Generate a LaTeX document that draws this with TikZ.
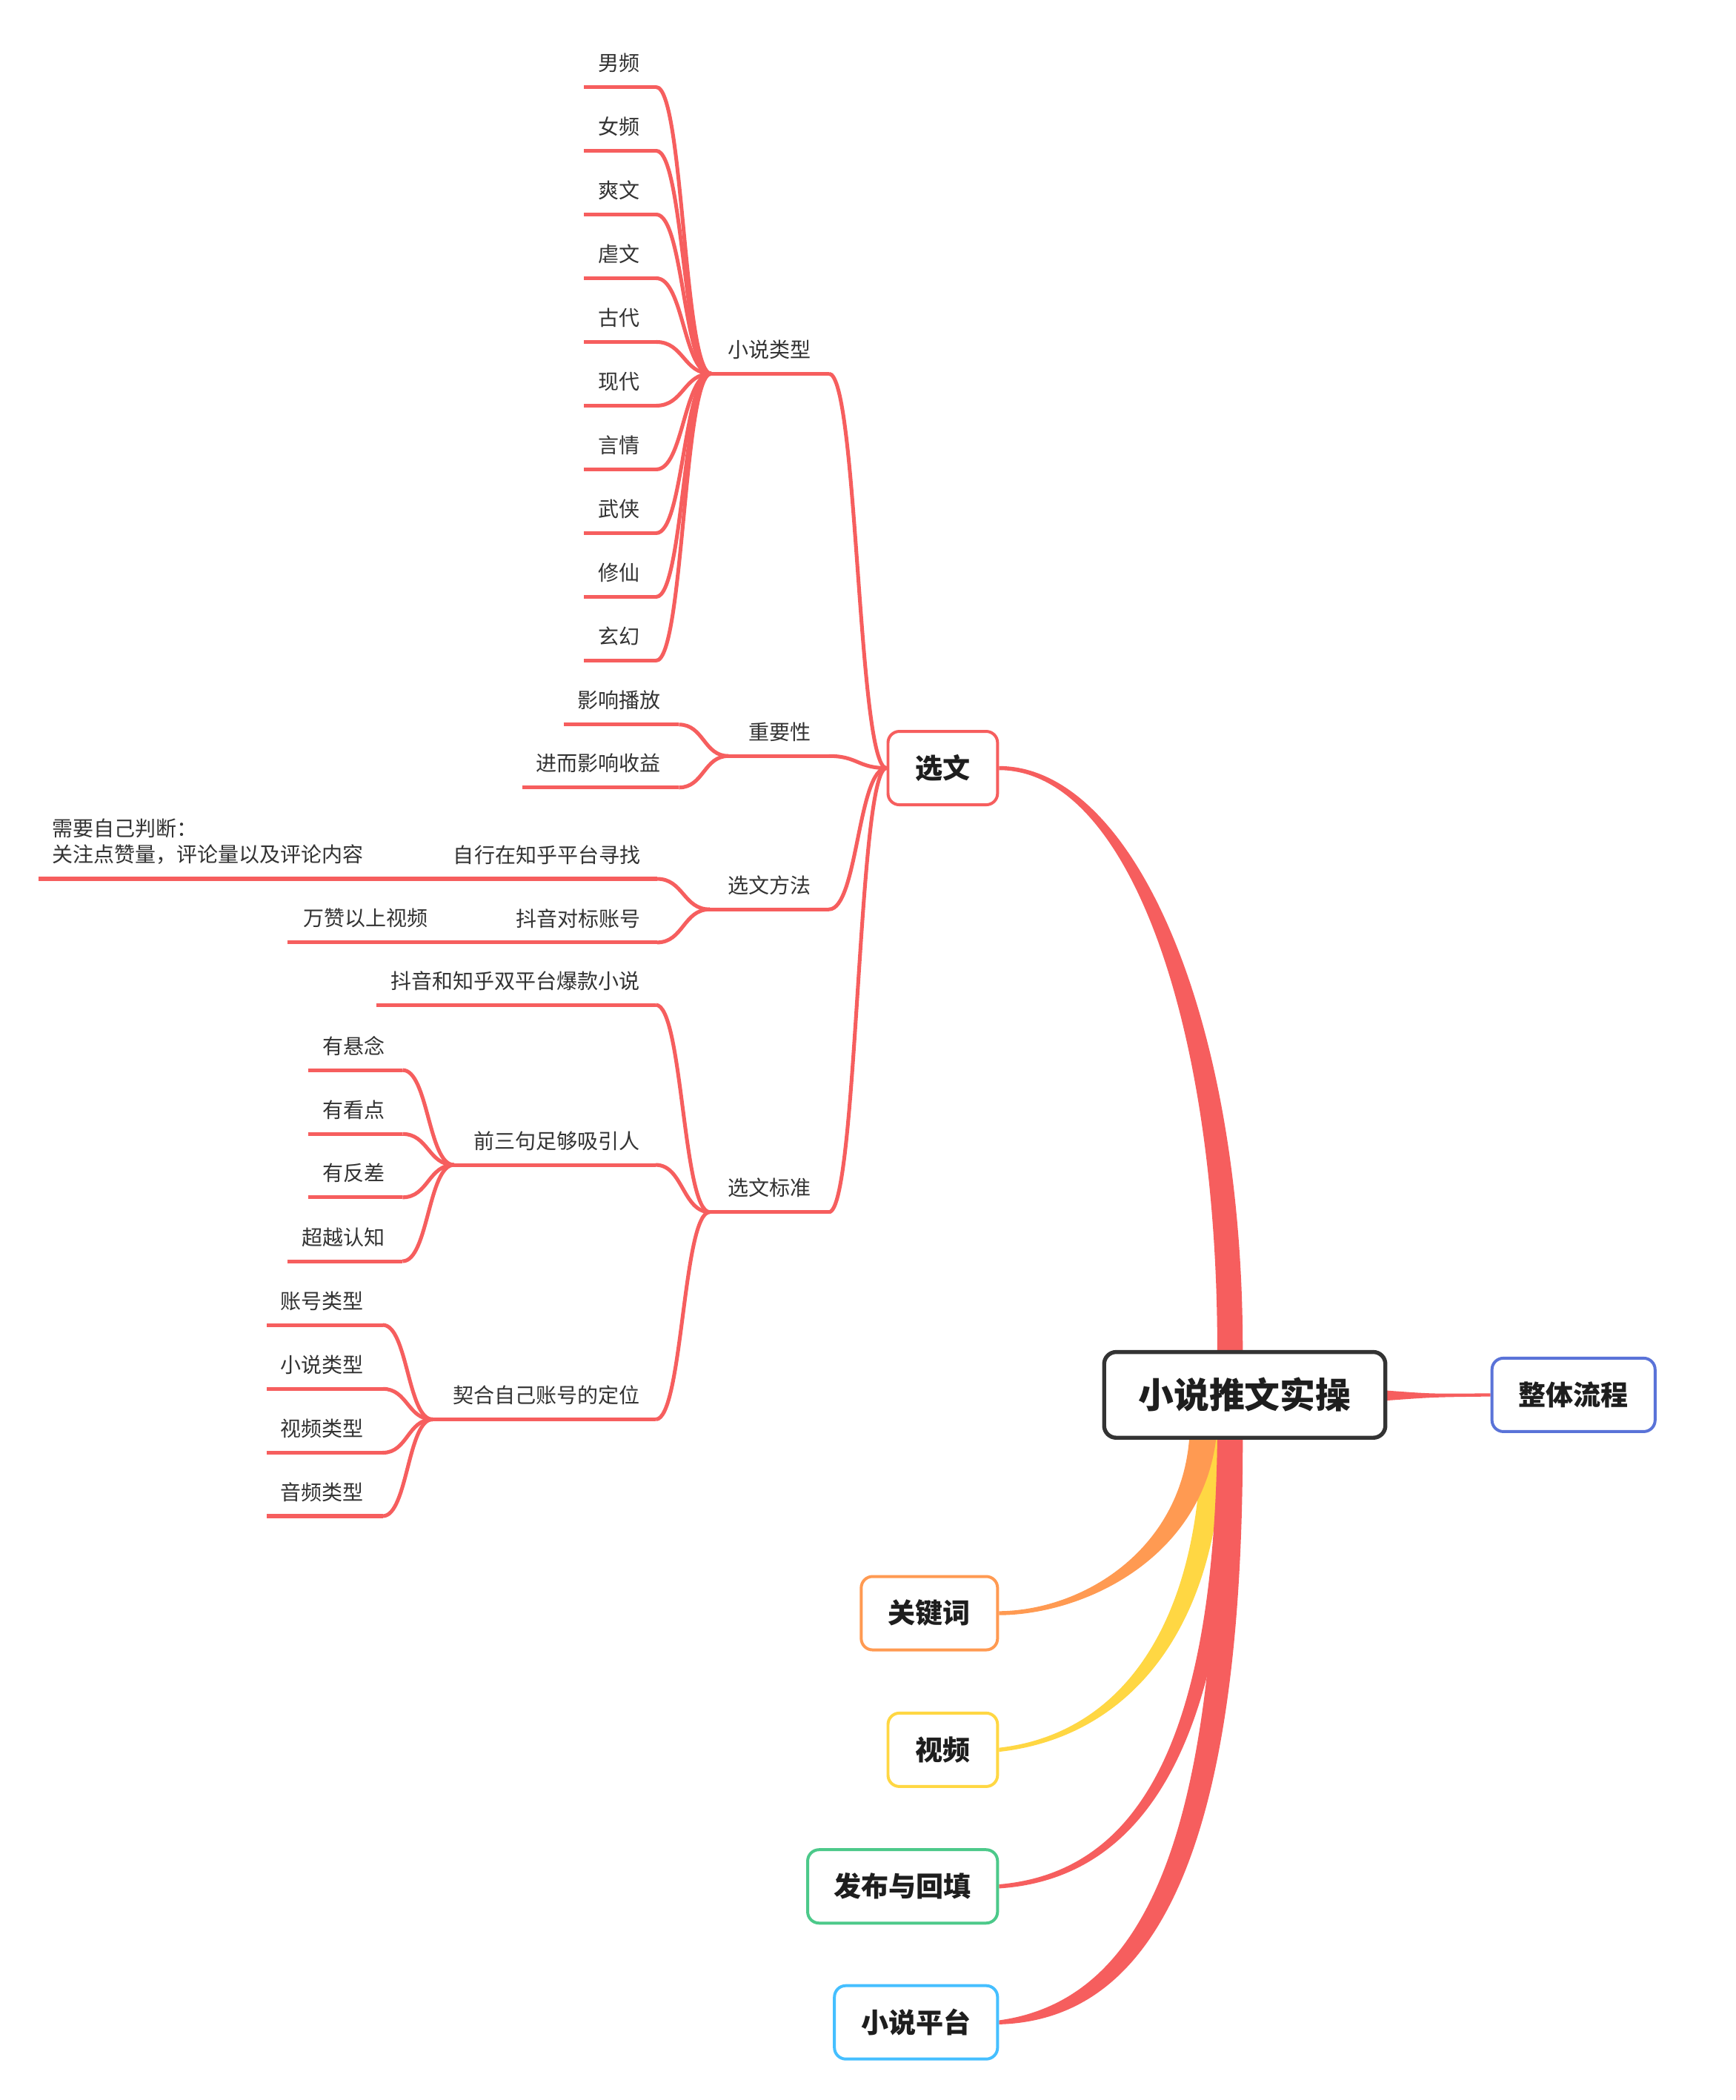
\documentclass[tikz,border=0pt]{standalone}
\usepackage{fontspec}
\setmainfont{Noto Sans CJK SC}
\usetikzlibrary{calc,backgrounds}
\definecolor{brc}{HTML}{F65E5E}
\definecolor{orc}{HTML}{FF9A52}
\definecolor{ylc}{HTML}{FFD743}
\definecolor{grc}{HTML}{4CC98A}
\definecolor{lbc}{HTML}{45BFFF}
\definecolor{blc}{HTML}{5A73D8}
\definecolor{rtc}{HTML}{333333}
\definecolor{txc}{HTML}{333333}
\definecolor{bxt}{HTML}{1E1E1E}
% #1 name, #2 text, #3 text right x, #4 line y, #5 line left x, #6 line right x
\newcommand\mmtopic[6]{%
  \node[lbl] (t-#1) at (#3,{#4-18}) {#2};
  \coordinate (#1-L) at (#5,#4);
  \coordinate (#1-R) at (#6,#4);
  \draw[branch] (#1-L) -- (#1-R);
}
\newcommand\mmlink[2]{%
  \draw[branch] let \p1=(#1), \p2=(#2) in
    (\p1) .. controls ({(\x1+\x2)/2},\y1) and ({(\x1+\x2)/2},\y2) .. (\p2);
}
\begin{document}
\begin{tikzpicture}[x=1pt,y=-1pt,
  branch/.style={draw=brc,line width=2.8pt},
  lbl/.style={inner sep=0pt,anchor=east,text=txc,font=\fontsize{15.5}{18.6}\selectfont},
  box/.style={rounded corners=8.5pt,fill=white,line width=2.2pt,minimum height=54.8pt,
    inner sep=0pt,text=bxt,font=\fontsize{20.5}{24}\selectfont\bfseries}]
\useasboundingbox (0,0) rectangle (1295.8,1568);

% ---- boxes ----
\node[box,draw=rtc,line width=3pt,rounded corners=9pt,minimum width=210pt,minimum height=64pt,
  font=\fontsize{26.5}{30}\selectfont\bfseries] (root) at (929.5,1041.5) {小说推文实操};
\node[box,draw=blc,minimum width=121.8pt] (zt) at (1175,1041.5) {整体流程};
\node[box,draw=brc,minimum width=81.8pt] (xw) at (704,573.5) {选文};
\node[box,draw=orc,minimum width=101.8pt] (gj) at (694,1204.5) {关键词};
\node[box,draw=ylc,minimum width=81.8pt] (sp) at (704,1306.5) {视频};
\node[box,draw=grc,minimum width=141.8pt] (fb) at (674,1408.5) {发布与回填};
\node[box,draw=lbc,minimum width=121.8pt] (pt) at (684,1510) {小说平台};

% ---- thick main branches ----
\begin{scope}[on background layer]
\fill[white] (0,0) rectangle (1295.8,1568);
% root -> 选文
\fill[brc] ($(xw.east)+(0,-1.5)$) .. controls (845,572) and (928,756) .. (928,1008)
  -- (928,1020) -- (909,1020) -- (909,1008)
  .. controls (909,760) and (841,575) .. ($(xw.east)+(0,1.5)$) -- cycle;
% root -> 整体流程
\fill[brc] (1030,1038.3) -- (1036,1038.3) .. controls (1070,1040.8) .. ($(zt.west)+(0,-1.2)$)
  -- ($(zt.west)+(0,1.2)$) .. controls (1070,1043.2) .. (1036,1045.7) -- (1030,1045.7) -- cycle;
% root -> 视频
\fill[ylc] (897,1065) -- (897,1075) .. controls (895,1212) and (838,1294.5) .. ($(sp.east)+(0,-1.5)$)
  -- ($(sp.east)+(0,1.5)$) .. controls (842,1297.5) and (911,1218) .. (913,1075) -- (913,1065) -- cycle;
% root -> 关键词
\fill[orc] (888,1065) -- (888,1075) .. controls (881,1158) and (808,1202.5) .. ($(gj.east)+(0,-1.5)$)
  -- ($(gj.east)+(0,1.5)$) .. controls (812,1205.5) and (897,1162) .. (908,1075) -- (908,1065) -- cycle;
% root -> 发布与回填
\fill[brc] (909,1065) -- (909,1075) .. controls (906,1300) and (850,1398) .. ($(fb.east)+(0,-1.5)$)
  -- ($(fb.east)+(0,1.5)$) .. controls (855,1403) and (919,1300) .. (921,1075) -- (921,1065) -- cycle;
% root -> 小说平台
\fill[brc] (910,1065) -- (910,1075) .. controls (909,1345) and (866,1492) .. ($(pt.east)+(0,-1.5)$)
  -- ($(pt.east)+(0,1.5)$) .. controls (874,1508) and (928,1355) .. (928,1075) -- (928,1065) -- cycle;
\end{scope}

% ---- level 1 under 选文 ----
\mmtopic{xl}{小说类型}{606}{279}{531}{619}
\mmtopic{zy}{重要性}{606}{564.5}{544}{619}
\mmtopic{ff}{选文方法}{606}{679}{530}{619}
\mmtopic{bz}{选文标准}{606}{905}{530}{619}
\mmlink{xl-R}{xw.west}
\mmlink{zy-R}{xw.west}
\mmlink{ff-R}{xw.west}
\mmlink{bz-R}{xw.west}

% ---- 小说类型 leaves ----
\mmtopic{a0}{男频}{478}{65}{436}{490}
\mmtopic{a1}{女频}{478}{112.58}{436}{490}
\mmtopic{a2}{爽文}{478}{160.16}{436}{490}
\mmtopic{a3}{虐文}{478}{207.74}{436}{490}
\mmtopic{a4}{古代}{478}{255.32}{436}{490}
\mmtopic{a5}{现代}{478}{302.9}{436}{490}
\mmtopic{a6}{言情}{478}{350.48}{436}{490}
\mmtopic{a7}{武侠}{478}{398.06}{436}{490}
\mmtopic{a8}{修仙}{478}{445.64}{436}{490}
\mmtopic{a9}{玄幻}{478}{493.22}{436}{490}
\foreach \i in {0,...,9} {\mmlink{a\i-R}{xl-L}}

% ---- 重要性 ----
\mmtopic{zy1}{影响播放}{493.6}{541}{421}{507}
\mmtopic{zy2}{进而影响收益}{493.6}{588}{390}{507}
\mmlink{zy1-R}{zy-L}
\mmlink{zy2-R}{zy-L}

% ---- 选文方法 ----
\mmtopic{ff1}{自行在知乎平台寻找}{478.3}{656.2}{327}{490.6}
\mmtopic{ff2}{抖音对标账号}{478.3}{703.7}{373}{490.6}
\mmlink{ff1-R}{ff-L}
\mmlink{ff2-R}{ff-L}
\node[lbl,anchor=west,align=left,font=\fontsize{15.5}{19.4}\selectfont] (t-pd) at (38.8,628.6)
  {需要自己判断：\\关注点赞量，评论量以及评论内容};
\coordinate (pd-L) at (29,656.2);
\coordinate (pd-R) at (315,656.2);
\draw[branch] (pd-L) -- (pd-R);
\mmlink{pd-R}{ff1-L}
\mmtopic{wz}{万赞以上视频}{319.5}{703.7}{214.6}{332.5}
\mmlink{wz-R}{ff2-L}

% ---- 选文标准 ----
\mmtopic{bz1}{抖音和知乎双平台爆款小说}{478}{750.3}{281}{489.7}
\mmtopic{bz2}{前三句足够吸引人}{478}{869.8}{339}{489.7}
\mmtopic{bz3}{契合自己账号的定位}{478}{1059.8}{323}{489.7}
\mmlink{bz1-R}{bz-L}
\mmlink{bz2-R}{bz-L}
\mmlink{bz3-R}{bz-L}

\mmtopic{q1}{有悬念}{287.6}{799}{230.3}{300.6}
\mmtopic{q2}{有看点}{287.6}{846.7}{230.3}{300.6}
\mmtopic{q3}{有反差}{287.6}{894}{230.3}{300.6}
\mmtopic{q4}{超越认知}{287.6}{941.7}{214.7}{300.6}
\foreach \i in {1,...,4} {\mmlink{q\i-R}{bz2-L}}

\mmtopic{r1}{账号类型}{271.8}{989.3}{199.4}{285.8}
\mmtopic{r2}{小说类型}{271.8}{1037}{199.4}{285.8}
\mmtopic{r3}{视频类型}{271.8}{1084.7}{199.4}{285.8}
\mmtopic{r4}{音频类型}{271.8}{1132}{199.4}{285.8}
\foreach \i in {1,...,4} {\mmlink{r\i-R}{bz3-L}}
\end{tikzpicture}
\end{document}
